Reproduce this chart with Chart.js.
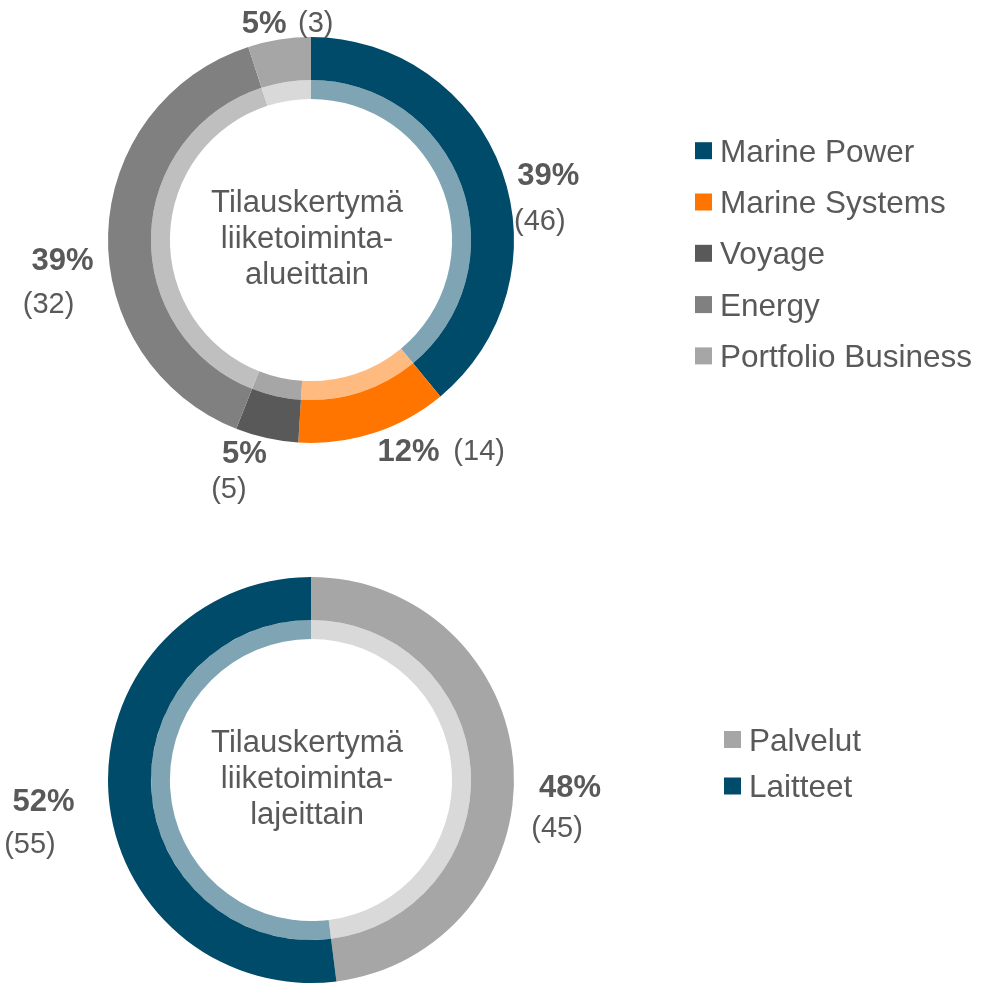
<!DOCTYPE html>
<html>
<head>
<meta charset="utf-8">
<script src="https://cdn.jsdelivr.net/npm/chart.js@4"></script>
<style>
  html, body { margin: 0; padding: 0; background: #fff; }
  .wrap { position: relative; width: 1002px; height: 984px; }
  canvas { position: absolute; left: 0; }
</style>
</head>
<body>
<div class="wrap">
  <canvas id="areaChart" width="1002" height="520" style="top:0"></canvas>
  <canvas id="typeChart" width="1002" height="464" style="top:520px"></canvas>
</div>
<script>
// Tilauskertymä liiketoiminta-alueittain (share %, previous in brackets)
const areaLabels = ['Marine Power', 'Marine Systems', 'Voyage', 'Energy', 'Portfolio Business'];
const areaShare = [39, 12, 5, 39, 5];
const areaPrevious = [46, 14, 5, 32, 3];

// Tilauskertymä liiketoimintalajeittain
const typeLabels = ['Palvelut', 'Laitteet'];
const typeShare = [48, 52];
const typePrevious = [45, 55];

const TEXT = '#595959';
const FONT = '"Liberation Sans", Arial, sans-serif';

const areaDark = ['#014b6a', '#ff7500', '#595959', '#808080', '#a6a6a6'];
const areaLight = ['#7fa5b5', '#ffba80', '#a6a6a6', '#bfbfbf', '#d9d9d9'];
const typeDark = ['#a6a6a6', '#014b6a'];
const typeLight = ['#d9d9d9', '#7fa5b5'];

// label placement relative to the arc middle (outer radius + 45px)
const areaPctOffsets = [[4, 18], [21, -26], [-12.5, -30.5], [-0.5, 26.5], [-8, 26.5]];
const areaValueOffsets = [[-8.5, 46], [70.5, 0], [-15.5, 36], [-14, 43.5], [51.5, 0]];
const typePctOffsets = [[11.5, 21.5], [-20, 4.3]];
const typeValueOffsets = [[-13, 40.5], [-13.5, 43]];

const ringLabels = {
    id: 'ringLabels',
    afterDatasetsDraw(chart, args, opts) {
        const ctx = chart.ctx;
        const arcs = chart.getDatasetMeta(0).data;
        ctx.save();
        ctx.fillStyle = TEXT;
        ctx.textAlign = 'center';
        ctx.textBaseline = 'alphabetic';
        arcs.forEach((arc, i) => {
            const p = arc.getProps(['x', 'y', 'startAngle', 'endAngle', 'outerRadius'], true);
            const mid = (p.startAngle + p.endAngle) / 2;
            const ax = p.x + Math.cos(mid) * (p.outerRadius + 45);
            const ay = p.y + Math.sin(mid) * (p.outerRadius + 45);
            const px = ax + opts.pctOffsets[i][0];
            const py = ay + opts.pctOffsets[i][1];
            ctx.font = 'bold 31px ' + FONT;
            ctx.fillText(chart.data.datasets[0].data[i] + '%', px, py + 31 * 0.358);
            ctx.font = '29px ' + FONT;
            ctx.fillText('(' + opts.previous[i] + ')', px + opts.valueOffsets[i][0],
                py + opts.valueOffsets[i][1] + 29 * 0.358);
        });
        ctx.restore();
    }
};

const centerText = {
    id: 'centerText',
    afterDatasetsDraw(chart, args, opts) {
        const ctx = chart.ctx;
        const arc = chart.getDatasetMeta(0).data[0];
        ctx.save();
        ctx.fillStyle = TEXT;
        ctx.font = '31px ' + FONT;
        ctx.textAlign = 'center';
        opts.lines.forEach((line, i) => {
            ctx.fillText(line, arc.x - 4, arc.y + 8 + (i - 1) * 36);
        });
        ctx.restore();
    }
};

const sideLegend = {
    id: 'sideLegend',
    afterDraw(chart, args, opts) {
        const ctx = chart.ctx;
        const colors = chart.data.datasets[0].backgroundColor;
        ctx.save();
        ctx.font = '31.5px ' + FONT;
        ctx.textAlign = 'left';
        chart.data.labels.forEach((label, i) => {
            const cy = opts.top + i * opts.gap;
            ctx.fillStyle = colors[i];
            ctx.fillRect(opts.left, cy - 8.5, 17, 17);
            ctx.fillStyle = TEXT;
            ctx.fillText(label, opts.left + 25, cy + 11);
        });
        ctx.restore();
    }
};

function makeRing(id, labels, share, dark, light, pad, extra) {
    return new Chart(document.getElementById(id), {
        type: 'doughnut',
        data: {
            labels: labels,
            datasets: [
                { data: share, backgroundColor: dark, borderWidth: 0, weight: 43 },
                { data: share, backgroundColor: light, borderWidth: 0, weight: 19 }
            ]
        },
        options: {
            responsive: false,
            animation: false,
            cutout: '69.5%',
            hoverOffset: 0,
            offset: 0,
            layout: { padding: pad },
            plugins: {
                legend: { display: false },
                tooltip: { enabled: false },
                ringLabels: extra.labels,
                centerText: extra.center,
                sideLegend: extra.legend
            }
        },
        plugins: [ringLabels, centerText, sideLegend]
    });
}

makeRing('areaChart', areaLabels, areaShare, areaDark, areaLight,
    { left: 108, right: 488, top: 37, bottom: 77 }, {
    labels: { previous: areaPrevious, pctOffsets: areaPctOffsets, valueOffsets: areaValueOffsets },
    center: { lines: ['Tilauskertymä', 'liiketoiminta-', 'alueittain'] },
    legend: { left: 695, top: 150.7, gap: 51.3 }
});

makeRing('typeChart', typeLabels, typeShare, typeDark, typeLight,
    { left: 108, right: 488, top: 57, bottom: 1 }, {
    labels: { previous: typePrevious, pctOffsets: typePctOffsets, valueOffsets: typeValueOffsets },
    center: { lines: ['Tilauskertymä', 'liiketoiminta-', 'lajeittain'] },
    legend: { left: 724, top: 219.5, gap: 46.5 }
});
</script>
</body>
</html>
